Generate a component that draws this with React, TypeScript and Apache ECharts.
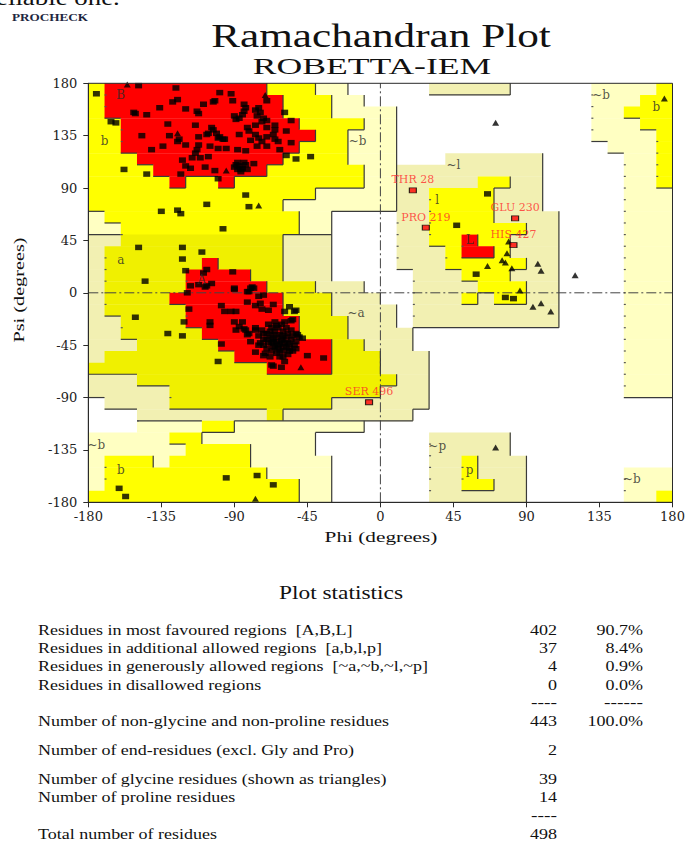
import React, { useEffect, useRef } from 'react';
import * as echarts from 'echarts';

// ---------------- data ----------------
const AXIS_MIN = -180;
const AXIS_MAX = 180;
const AXIS_STEP = 45;

// Region map in 10-degree cells. Row 0 = psi 170..180 (top), columns run phi -180..180.
// Run-length encoded: code + count. R core, B allowed(b,l,p), A allowed(a), b generous(~b), a generous(~a,~l,~p), . disallowed
const REGION_ROWS = [
  'B1 R10 B3 b2 .5 a5 .5 b4 B1',
  'B1 R11 B3 b2 .14 b3 B2',
  'B1 R11 B3 b4 .12 b2 B3',
  'B2 R11 B4 b2 .12 b3 B2',
  'B2 R12 B2 b3 .12 b4 B1',
  'B2 R11 B3 b3 .13 b3 B1',
  'B3 R9 B4 b3 .3 a6 .5 b2 B1',
  'B4 R7 B6 b2 a9 .5 b2 B1',
  'B5 R1 B2 R1 B8 b2 a5 B2 a2 .5 b2 B1',
  'B14 b5 a2 B4 a3 .5 b3',
  'B12 b7 a2 B4 a3 .5 b3',
  'b1 B12 b2 .4 a2 B4 a4 .4 b3',
  'b2 B11 b2 .4 a2 B6 a2 .4 b3',
  'a2 A10 a3 .4 a2 B2 R1 B2 a3 .4 b3',
  'a1 A11 a3 .4 a3 B1 R2 B1 a3 .4 b3',
  'a1 A6 R1 A4 a3 .4 a3 B5 a2 .4 b3',
  'a1 A5 R4 A2 a3 .5 a3 B3 a3 .4 b3',
  'a1 A5 R5 A3 a3 .3 a4 B3 a2 .4 b3',
  'a1 A4 R7 A3 a3 .2 a3 B1 a1 B2 a2 .4 b3',
  'a1 A5 R6 A3 a4 .1 a9 .4 b3',
  'a2 A4 R7 A3 a3 .1 a9 .4 b3',
  'a2 A5 R6 A3 a4 .13 b3',
  'a3 A5 R7 A2 a3 .13 b3',
  'a1 A8 R6 A3 a3 .12 b3',
  'A11 R4 A3 a3 .12 b3',
  'a3 A16 a2 .12 b3',
  'a5 A13 a3 .12 b3',
  '.1 a4 A10 a6 .15',
  '.3 a8 A1 a8 .16',
  '.3 b4 B2 b8 .19',
  'b5 B2 b7 .7 a5 .10',
  'b6 B4 b4 .7 a5 .10',
  'b1 B3 b1 B5 b5 .6 a2 B1 a3 .9',
  'b1 B10 b4 .6 a2 B1 a3 .6 b3',
  'b1 B12 b2 .6 a2 B2 a2 .6 b3',
  'B13 b2 .6 a6 .6 b2 B1',
];
const REGION_CODES = ['R', 'B', 'A', 'b', 'a'];
const REGION_FILLS = ['#FF0000', '#FFFF00', '#F0F000', '#FFFFC2', '#F2F0B2'];
const REGION_LEVELS: Record<string, number> = { R: 3, B: 2, A: 2, b: 1, a: 1, '.': 0 };

// Non-glycine residues (squares): [phi, psi]
const RESIDUES_BETA: number[][] = [
  [-175, 171], [-149, 178], [-126, 176], [-99, 172], [-92, 171], [-70, 165], [-128, 164], [-125, 166],
  [-136, 159], [-109, 162], [-102, 165], [-103, 164], [-91, 165], [-84, 162], [-83, 159], [-84, 156],
  [-85, 153], [-77, 157], [-75, 159], [-74, 155], [-59, 155], [-152, 155], [-151, 154], [-144, 153],
  [-120, 158], [-113, 156], [-112, 154], [-90, 152], [-87, 150], [-89, 149], [-76, 152], [-72, 150],
  [-70, 148], [-73, 147], [-55, 148], [-166, 147], [-163, 146], [-131, 145], [-114, 144], [-104, 142],
  [-103, 140], [-101, 137], [-99, 134], [-97, 132], [-82, 142], [-81, 139], [-77, 144], [-70, 142],
  [-65, 144], [-65, 140], [-66, 136], [-58, 139], [-147, 135], [-130, 135], [-124, 132], [-125, 130],
  [-112, 134], [-107, 136], [-106, 137], [-96, 132], [-100, 133], [-87, 136], [-80, 131], [-77, 136],
  [-75, 133], [-73, 130], [-70, 134], [-65, 132], [-63, 130], [-55, 129], [-141, 123], [-134, 126],
  [-120, 127], [-112, 127], [-113, 123], [-114, 120], [-105, 126], [-100, 124], [-95, 124], [-88, 123],
  [-83, 122], [-76, 126], [-70, 126], [-62, 123], [-58, 118], [-52, 115], [-43, 117], [-122, 114],
  [-116, 116], [-111, 116], [-106, 117], [-120, 109], [-117, 107], [-108, 108], [-102, 105], [-100, 98],
  [-89, 110], [-87, 109], [-85, 107], [-83, 110], [-86, 106], [-88, 112], [-90, 108], [-84, 112],
  [-82, 106], [-86, 104], [-88, 106], [-78, 111], [-158, 106], [-144, 102], [-123, 102], [-83, 84],
  [-107, 76], [-81, 74], [-135, 70], [-125, 71], [-123, 68], [-97, 55],
  [-95, -159], [-76, -157], [-66, -165], [-161, -168], [-157, -175],
];
const RESIDUES_ALPHA: number[][] = [
  [-149, 39], [-122, 39], [-110, 35], [-122, 29], [-120, 19], [-107, 20], [-109, 17], [-91, 18],
  [-145, 10], [-117, 6], [-112, 7], [-107, 6], [-104, 8], [-90, 3], [-81, 1], [-79, 5],
  [-119, 0], [-108, 5], [-90, 4], [-80, 4], [-82, 1], [-75, -3], [-118, -14], [-151, -21],
  [-121, -25], [-105, -25], [-105, -28], [-131, -35], [-122, -37], [-98, -11], [-96, -16], [-92, -16],
  [-89, -16], [-82, -8], [-77, -11], [-73, -14], [-69, -15], [-59, -16], [-52, -15], [-90, -25],
  [-87, -29], [-89, -32], [-83, -32], [-81, -35], [-77, -32], [-98, -44], [-100, -59], [-77, -51],
  [-72, -54], [-67, -62], [-61, -64], [-59, -59], [-55, -24], [-52, -35], [-56, -50], [-45, -54],
  [-35, -56], [-78, 4], [-72, -2], [-74, -9], [-66, -10], [-56, -12], [-53, -16], [-54, -23],
  [-51, -36], [-48, -39], [-66, -63], [-84, -31], [-82, -36], [-85, -25], [-80, -42], [-60, -55],
  [-70, -35], [-68, -38], [-66, -40], [-64, -42], [-62, -44], [-60, -40], [-58, -38], [-62, -36],
  [-65, -33], [-67, -30], [-63, -30], [-60, -33], [-57, -35], [-55, -40], [-57, -43], [-60, -46],
  [-63, -48], [-66, -46], [-69, -43], [-72, -40], [-72, -45], [-70, -48], [-67, -50], [-64, -52],
  [-60, -50], [-56, -48], [-53, -45], [-54, -37], [-52, -42], [-58, -30], [-61, -27], [-65, -25],
  [-69, -27], [-73, -32], [-75, -37], [-74, -43], [-71, -52], [-68, -55], [-62, -55], [-57, -53],
  [-55, -32], [-66, -36], [-64, -38], [-61, -41], [-59, -43], [-67, -43], [-63, -45], [-65, -47],
  [-70, -40], [-60, -37], [-56, -44], [-62, -50], [-66, -42], [-58, -47], [-54, -50], [-72, -35],
  [-68, -33], [-64, -28], [-59, -25], [-75, -45], [-77, -30], [-52, -48], [-50, -38],
];
const RESIDUES_LEFT: number[][] = [[66, 85], [47, 58], [59, 16], [77, -4], [82, -5]];

// Glycine residues (triangles)
const GLYCINES: number[][] = [
  [-156, 179], [-71, 170], [-125, 137], [-95, 105], [-75, 75], [-49, -64], [-77, -177],
  [71, 146], [175, 167], [79, 44], [78, 34], [75, 28], [77, 26], [66, 23], [81, 21],
  [97, 25], [99, 19], [120, 15], [86, 2], [94, -12], [99, -9], [105, -16], [71, -133],
];

// Residues flagged outside core regions (labelled red squares)
const FLAGGED_NAMES = ['THR 28', 'PRO 219', 'GLU 230', 'HIS 427', 'SER 496'];
const FLAGGED_PHI = [20, 28, 83, 82, -7];
const FLAGGED_PSI = [88, 56, 64, 41, -94];

// Region letters
const REGION_LETTERS = ['B', 'b', 'a', 'A', '~b', '~a', '~b', 'b', '~l', 'l', 'L', '~b', 'b', '~p', 'p', '~b'];
const REGION_LETTER_PHI = [-160, -170, -160, -110, -14, -15, -175, -160, 45, 35, 55, 136, 170, 35, 55, 155];
const REGION_LETTER_PSI = [170, 130, 28, 11, 130, -17, -131, -152, 110, 80, 45, 170, 160, -132, -152, -160];

// Statistics table
const STAT_LABELS = [
  'Residues in most favoured regions  [A,B,L]',
  'Residues in additional allowed regions  [a,b,l,p]',
  'Residues in generously allowed regions  [~a,~b,~l,~p]',
  'Residues in disallowed regions',
  'Number of non-glycine and non-proline residues',
  'Number of end-residues (excl. Gly and Pro)',
  'Number of glycine residues (shown as triangles)',
  'Number of proline residues',
  'Total number of residues',
];
const STAT_COUNTS = ['402', '37', '4', '0', '443', '2', '39', '14', '498'];
const STAT_PERCENTS = ['90.7%', '8.4%', '0.9%', '0.0%', '100.0%', '', '', '', ''];

// ---------------- helpers ----------------
function decodeRow(s: string): string {
  return s
    .split(' ')
    .map((t) => t[0].repeat(parseInt(t.slice(1), 10)))
    .join('');
}

function buildRegions() {
  const grid = REGION_ROWS.map(decodeRow);
  const rects: number[][] = [];
  grid.forEach((row, j) => {
    const psiTop = 180 - 10 * j;
    let k = 0;
    while (k < row.length) {
      const c = row[k];
      let e = k;
      while (e + 1 < row.length && row[e + 1] === c) e++;
      const idx = REGION_CODES.indexOf(c);
      if (idx >= 0) rects.push([-180 + 10 * k, psiTop - 10, -180 + 10 * (e + 1), psiTop, idx]);
      k = e + 1;
    }
  });
  const lv = (c: string) => REGION_LEVELS[c] ?? 0;
  const edge = (c: string, n: string) => lv(c) > lv(n) || (lv(c) === 1 && lv(n) === 1 && c !== n);
  const segs: number[][] = [];
  const dots: number[][] = [];
  const nC = 36;
  const nR = grid.length;
  for (let k = 0; k < nC - 1; k++) {
    let start = -1;
    for (let j = 0; j <= nR; j++) {
      const on = j < nR && edge(grid[j][k], grid[j][k + 1]);
      if (on && start < 0) start = j;
      if (!on && start >= 0) {
        const x = -180 + 10 * (k + 1);
        segs.push([x, 180 - 10 * start, x, 180 - 10 * j]);
        start = -1;
      }
    }
  }
  for (let j = 0; j < nR - 1; j++) {
    let start = -1;
    for (let k = 0; k <= nC; k++) {
      const on = k < nC && edge(grid[j][k], grid[j + 1][k]);
      if (on && start < 0) start = k;
      if (!on && start >= 0) {
        const y = 180 - 10 * (j + 1);
        segs.push([-180 + 10 * start, y, -180 + 10 * k, y]);
        start = -1;
      }
    }
  }
  // small tick dots along the left (undrawn) edges of raised regions
  for (let k = 1; k < nC; k++) {
    for (let j = 1; j < nR; j++) {
      const q = (jj: number) => lv(grid[jj][k]) > lv(grid[jj][k - 1]);
      if (q(j - 1) && q(j)) dots.push([-180 + 10 * k, 180 - 10 * j]);
    }
  }
  return { rects, segs, dots };
}

const SERIF = 'Liberation Serif, Times New Roman, serif';

function txt(text: string, x: number, y: number, size: number, sx: number, align: string, extra: any = {}) {
  return {
    type: 'text',
    x,
    y,
    scaleX: sx,
    silent: true,
    style: {
      text,
      fontFamily: SERIF,
      fontSize: size,
      fill: '#111',
      align,
      verticalAlign: 'middle',
      textAlign: align,
      textVerticalAlign: 'middle',
      ...(extra.style || {}),
    },
    ...(extra.el || {}),
  };
}

function buildOption() {
  const { rects, segs, dots } = buildRegions();
  const graphics: any[] = [];
  graphics.push(txt('eliable one.', -4, -2, 21, 1.28, 'left'));
  graphics.push(txt('PROCHECK', 50, 17, 11, 1.2, 'center', { style: { fontWeight: 'bold', fill: '#1d2640' } }));
  graphics.push(txt('Ramachandran Plot', 381, 36, 33, 1.31, 'center'));
  graphics.push(txt('ROBETTA-IEM', 372, 66, 23, 1.55, 'center'));
  graphics.push(txt('Phi (degrees)', 381, 537, 15, 1.42, 'center'));
  graphics.push(txt('Psi (degrees)', 19, 290, 15, 1.35, 'center', { el: { rotation: Math.PI / 2 } }));
  graphics.push(txt('Plot statistics', 341, 593, 18, 1.3, 'center'));

  const rowY = [630, 648, 666, 685, 721, 750, 779, 797, 834];
  STAT_LABELS.forEach((label, i) => {
    graphics.push(txt(label, 38, rowY[i], 15, 1.2, 'left'));
    graphics.push(txt(STAT_COUNTS[i], 557, rowY[i], 15, 1.2, 'right'));
    if (STAT_PERCENTS[i]) graphics.push(txt(STAT_PERCENTS[i], 643, rowY[i], 15, 1.2, 'right'));
  });
  graphics.push(txt('----', 557, 702, 15, 1.3, 'right'));
  graphics.push(txt('------', 643, 702, 15, 1.3, 'right'));
  graphics.push(txt('----', 557, 815, 15, 1.3, 'right'));

  const axisCommon = {
    type: 'value',
    min: AXIS_MIN,
    max: AXIS_MAX,
    interval: AXIS_STEP,
    z: 10,
    axisLine: { show: true, onZero: false, lineStyle: { color: '#2a2a2a', width: 1 } },
    axisTick: { show: true, length: 5, lineStyle: { color: '#2a2a2a' } },
    splitLine: { show: false },
  };

  return {
    animation: false,
    grid: {
      left: 88.3,
      right: 18.5,
      top: 83.3,
      bottom: 339.7,
      show: true,
      z: 10,
      borderColor: '#2a2a2a',
      borderWidth: 1,
      backgroundColor: 'transparent',
    },
    xAxis: {
      ...axisCommon,
      axisLabel: { fontFamily: 'DejaVu Serif', fontSize: 13, color: '#222', margin: 8 },
    },
    yAxis: {
      ...axisCommon,
      axisLabel: { fontFamily: 'DejaVu Serif', fontSize: 13, color: '#222', margin: 11 },
    },
    graphic: graphics,
    series: [
      {
        type: 'custom',
        name: 'regions',
        silent: true,
        z: 1,
        data: rects,
        encode: { x: [0, 2], y: [1, 3] },
        renderItem: (params: any, api: any) => {
          const p0 = api.coord([api.value(0), api.value(3)]);
          const p1 = api.coord([api.value(2), api.value(1)]);
          return {
            type: 'rect',
            shape: { x: p0[0], y: p0[1], width: p1[0] - p0[0] + 0.4, height: p1[1] - p0[1] + 0.4 },
            style: { fill: REGION_FILLS[api.value(4)] },
          };
        },
      },
      {
        type: 'custom',
        name: 'region edges',
        silent: true,
        z: 2,
        data: segs,
        encode: { x: [0, 2], y: [1, 3] },
        renderItem: (params: any, api: any) => {
          const p0 = api.coord([api.value(0), api.value(1)]);
          const p1 = api.coord([api.value(2), api.value(3)]);
          return {
            type: 'line',
            shape: { x1: p0[0], y1: p0[1], x2: p1[0], y2: p1[1] },
            style: { stroke: '#3a3a3a', lineWidth: 1.2 },
          };
        },
      },
      {
        type: 'custom',
        name: 'edge ticks',
        silent: true,
        z: 2,
        data: dots,
        encode: { x: 0, y: 1 },
        renderItem: (params: any, api: any) => {
          const p = api.coord([api.value(0), api.value(1)]);
          return {
            type: 'rect',
            shape: { x: p[0], y: p[1] - 0.6, width: 2, height: 1.2 },
            style: { fill: '#555' },
          };
        },
      },
      {
        type: 'custom',
        name: 'zero lines',
        silent: true,
        z: 3,
        data: [
          [0, AXIS_MIN, 0, AXIS_MAX],
          [AXIS_MIN, 0, AXIS_MAX, 0],
        ],
        encode: { x: [0, 2], y: [1, 3] },
        renderItem: (params: any, api: any) => {
          const p0 = api.coord([api.value(0), api.value(1)]);
          const p1 = api.coord([api.value(2), api.value(3)]);
          return {
            type: 'line',
            shape: { x1: p0[0], y1: p0[1], x2: p1[0], y2: p1[1] },
            style: { stroke: '#444', lineWidth: 1, lineDash: [10, 3, 2, 3] },
          };
        },
      },
      {
        type: 'scatter',
        name: 'residues',
        silent: true,
        z: 5,
        symbol: 'rect',
        symbolSize: [7, 5.5],
        itemStyle: { color: '#000' },
        data: [...RESIDUES_BETA, ...RESIDUES_ALPHA, ...RESIDUES_LEFT],
      },
      {
        type: 'scatter',
        name: 'glycine',
        silent: true,
        z: 5,
        symbol: 'triangle',
        symbolSize: [7, 6],
        itemStyle: { color: '#000' },
        data: GLYCINES,
      },
      {
        type: 'scatter',
        name: 'flagged',
        silent: true,
        z: 6,
        symbol: 'rect',
        symbolSize: [7, 5],
        itemStyle: { color: '#FF0000', borderColor: '#000', borderWidth: 1 },
        label: {
          show: true,
          position: 'top',
          distance: 2,
          formatter: '{b}',
          color: '#FF2A2A',
          fontFamily: 'DejaVu Serif',
          fontSize: 11,
        },
        data: FLAGGED_NAMES.map((n, i) => ({ name: n, value: [FLAGGED_PHI[i], FLAGGED_PSI[i]] })),
      },
      {
        type: 'scatter',
        name: 'region letters',
        silent: true,
        z: 7,
        symbolSize: 1,
        itemStyle: { color: 'transparent' },
        label: {
          show: true,
          position: 'inside',
          formatter: '{b}',
          color: '#2a2a2a',
          fontFamily: 'DejaVu Serif',
          fontSize: 12,
        },
        data: REGION_LETTERS.map((n, i) => ({ name: n, value: [REGION_LETTER_PHI[i], REGION_LETTER_PSI[i]] })),
      },
    ],
  };
}

export default function App() {
  const ref = useRef<HTMLDivElement>(null);
  useEffect(() => {
    const chart = echarts.init(ref.current as HTMLDivElement, undefined, { renderer: 'svg' });
    chart.setOption(buildOption() as any);
    return () => chart.dispose();
  }, []);
  return (
    <div
      ref={ref}
      style={{ position: 'absolute', left: 0, top: 0, width: 691, height: 842, background: '#fff' }}
    />
  );
}
